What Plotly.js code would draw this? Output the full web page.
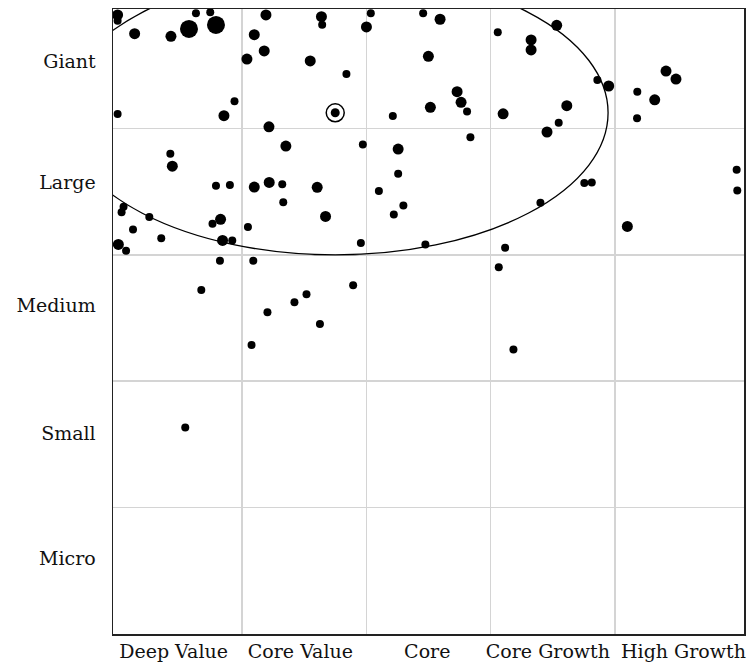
<!DOCTYPE html>
<html>
<head>
<meta charset="utf-8">
<script src="https://cdn.plot.ly/plotly-3.0.1.min.js"></script>
<style>html,body{margin:0;padding:0;background:#fff;}#chart{width:749px;height:665px;}</style>
</head>
<body>
<div id="chart"></div>
<script>
// Style axis categories (columns, left to right) and size categories (rows, bottom to top)
const styleLabels = ["Deep Value", "Core Value", "Core", "Core Growth", "High Growth"];
const styleLabelPos = [0.45, 1.47, 2.49, 3.46, 4.55];
const sizeLabels = ["Micro", "Small", "Medium", "Large", "Giant"];
const sizeLabelPos = [0.6, 1.59, 2.6, 3.57, 4.53];
const gridVals = [1, 2, 3, 4];

// Holdings: style score (x), size score (y), weight class (1 small, 2 medium, 3 large)
const holdingStyle = [
  0.00, 0.00, 0.137, 0.429, 0.574, 0.630, 0.745, 0.791, 0.00, 0.940,
  0.855, 1.193, 1.099, 1.179, 1.040, 1.549, 1.217, 1.639, 1.645, 2.036,
  2.001, 2.457, 2.593, 1.840, 3.057, 3.325, 3.325, 2.499, 2.213, 2.515,
  2.730, 2.762, 2.810, 3.100, 2.837, 3.531, 3.858, 3.949, 3.612, 3.547,
  3.453, 4.410, 4.490, 4.179, 4.319, 4.177, 0.424, 0.440, 0.791, 0.903,
  1.099, 1.219, 1.324, 1.332, 1.353, 0.048, 0.032, 0.255, 0.124, 0.006,
  0.068, 0.351, 0.763, 0.828, 0.844, 0.922, 1.048, 0.823, 1.091, 1.605,
  1.972, 2.256, 2.256, 2.101, 2.298, 2.221, 1.672, 1.956, 2.475, 3.116,
  3.065, 3.753, 3.813, 3.400, 4.099, 4.978, 4.983, 0.673, 1.077, 1.205,
  1.422, 1.519, 1.627, 1.894, 0.544, 3.183
];
const holdingSize = [
  4.897, 4.852, 4.749, 4.728, 4.786, 4.910, 4.918, 4.818, 4.113, 4.214,
  4.100, 4.897, 4.741, 4.612, 4.548, 4.533, 4.012, 4.883, 4.820, 4.910,
  4.802, 4.910, 4.863, 4.430, 4.760, 4.699, 4.620, 4.570, 4.097, 4.166,
  4.290, 4.206, 4.134, 4.115, 3.929, 4.815, 4.382, 4.335, 4.179, 4.044,
  3.971, 4.453, 4.390, 4.290, 4.226, 4.079, 3.799, 3.701, 3.545, 3.551,
  3.535, 3.572, 3.557, 3.416, 3.860, 3.379, 3.337, 3.298, 3.200, 3.082,
  3.031, 3.131, 3.245, 3.280, 3.113, 3.113, 3.219, 2.952, 2.952, 3.533,
  3.873, 3.836, 3.640, 3.504, 3.390, 3.319, 3.303, 3.092, 3.082, 3.055,
  2.902, 3.567, 3.572, 3.411, 3.224, 3.672, 3.509, 2.722, 2.287, 2.546,
  2.625, 2.688, 2.453, 2.759, 1.633, 2.250
];
const holdingWeight = [
  2, 1, 2, 2, 3, 1, 1, 3, 1, 1,
  2, 2, 2, 2, 2, 2, 2, 2, 1, 1,
  2, 1, 2, 1, 1, 2, 2, 2, 1, 2,
  2, 2, 1, 2, 1, 2, 1, 2, 2, 1,
  2, 2, 2, 1, 2, 1, 1, 2, 1, 1,
  2, 2, 1, 1, 2, 1, 1, 1, 1, 2,
  1, 1, 1, 2, 2, 1, 1, 1, 1, 2,
  1, 2, 1, 1, 1, 1, 2, 1, 1, 1,
  1, 1, 1, 1, 2, 1, 1, 1, 1, 1,
  1, 1, 1, 1, 1, 1
];

// Portfolio centroid and its ownership zone
const centroidStyle = [1.75];
const centroidSize = [4.123];
const zoneRadiusStyle = 2.194;
const zoneRadiusSize = 1.124;

const weightToPx = {1: 8, 2: 11, 3: 18};

const FONT = "DejaVu Serif, Liberation Serif, serif";

const traces = [
  {
    type: "scatter", mode: "markers",
    x: holdingStyle, y: holdingSize,
    marker: {color: "#000", opacity: 1, size: holdingWeight.map(w => weightToPx[w]), line: {width: 0}},
    cliponaxis: true, hoverinfo: "skip", showlegend: false
  },
  {
    type: "scatter", mode: "markers",
    x: centroidStyle, y: centroidSize,
    marker: {symbol: "circle-open", color: "#000", opacity: 1, size: 18, line: {width: 1.5, color: "#000"}},
    hoverinfo: "skip", showlegend: false
  },
  {
    type: "scatter", mode: "markers",
    x: centroidStyle, y: centroidSize,
    marker: {color: "#000", opacity: 1, size: 9},
    hoverinfo: "skip", showlegend: false
  }
];

const axisCommon = {
  showline: true, mirror: true, linecolor: "#222", linewidth: 1.5,
  zeroline: false, showgrid: false,
  tickmode: "array", ticks: "outside", tickcolor: "rgba(0,0,0,0)",
  tickfont: {family: FONT, size: 19, color: "#111"},
  minor: {tickmode: "array", tickvals: gridVals, showgrid: true, gridcolor: "#d4d4d4", gridwidth: 1.5, ticks: ""},
  fixedrange: true
};

const layout = {
  width: 749, height: 665,
  margin: {l: 113, r: 5, t: 9, b: 31, pad: 0},
  paper_bgcolor: "#fff", plot_bgcolor: "#fff",
  showlegend: false,
  xaxis: Object.assign({}, axisCommon, {
    range: [-0.037, 5.037],
    tickvals: styleLabelPos, ticktext: styleLabels, ticklen: 0
  }),
  yaxis: Object.assign({}, axisCommon, {
    range: [0, 4.944],
    tickvals: sizeLabelPos, ticktext: sizeLabels, ticklen: 12
  }),
  shapes: [{
    type: "circle", xref: "x", yref: "y",
    x0: centroidStyle[0] - zoneRadiusStyle, x1: centroidStyle[0] + zoneRadiusStyle,
    y0: centroidSize[0] - zoneRadiusSize, y1: centroidSize[0] + zoneRadiusSize,
    line: {color: "#000", width: 1.3}, fillcolor: "rgba(0,0,0,0)", layer: "above"
  }]
};

Plotly.newPlot("chart", traces, layout, {displayModeBar: false, staticPlot: true});
</script>
</body>
</html>
